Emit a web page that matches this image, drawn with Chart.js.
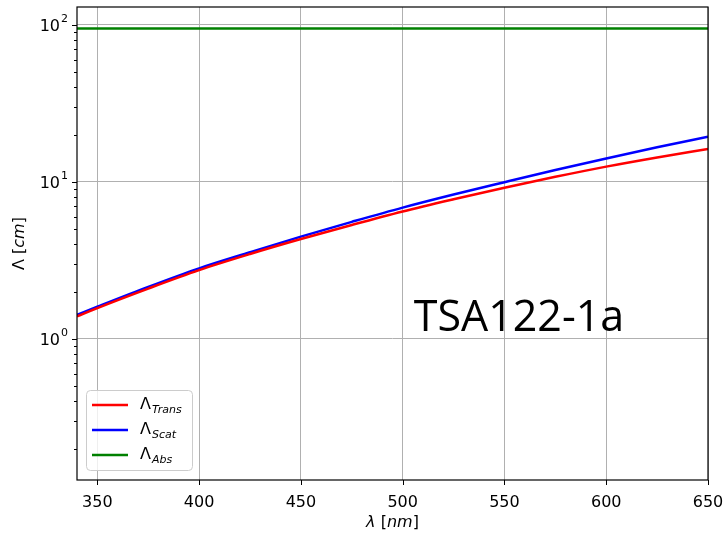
<!DOCTYPE html>
<html>
<head>
<meta charset="utf-8">
<script src="https://cdn.jsdelivr.net/npm/chart.js@4"></script>
<style>
  html, body { margin: 0; padding: 0; background: #fff; }
  #wrap { width: 728px; height: 535px; }
</style>
</head>
<body>
<div id="wrap"><canvas id="lambdaPlot"></canvas></div>
<script>
const wavelengths = [340, 350, 375, 400, 425, 450, 475, 500, 525, 550, 575, 600, 625, 650];
const transValues = [1.39, 1.57, 2.09, 2.74, 3.47, 4.32, 5.31, 6.47, 7.74, 9.18, 10.76, 12.5, 14.3, 16.2];
const scatValues = [1.42, 1.60, 2.14, 2.81, 3.56, 4.48, 5.56, 6.85, 8.30, 9.95, 11.89, 14.1, 16.6, 19.4];
const absValues = [95, 95, 95, 95, 95, 95, 95, 95, 95, 95, 95, 95, 95, 95];
const seriesSubs = ["Trans", "Scat", "Abs"];
const seriesColors = ["#ff0000", "#0000ff", "#008000"];
const xTicks = [350, 400, 450, 500, 550, 600, 650];
const yMajor = [1, 10, 100];
const yMinor = [0.2, 0.3, 0.4, 0.5, 0.6, 0.7, 0.8, 0.9, 2, 3, 4, 5, 6, 7, 8, 9, 20, 30, 40, 50, 60, 70, 80, 90];
const yExponents = { 1: "0", 10: "1", 100: "2" };
const sampleLabel = "TSA122-1a";

function toPoints(vals) {
    return wavelengths.map((w, i) => ({ x: w, y: vals[i] }));
}

// draws text pieces with different fonts side by side, centred on (cx,cy)
function drawParts(c, parts, cx, cy) {
    let total = 0;
    parts.forEach(([f, t]) => { c.font = f; total += c.measureText(t).width; });
    let x = cx - total / 2;
    c.textAlign = "left";
    parts.forEach(([f, t]) => {
        c.font = f;
        c.fillText(t, x, cy);
        x += c.measureText(t).width;
    });
}

// frame, tick marks, y labels, axis titles, legend, sample name
const decorPlugin = {
    id: "decor",
    afterDraw(chart) {
        const c = chart.ctx;
        const a = chart.chartArea;
        const xs = chart.scales.x;
        const ys = chart.scales.y;
        c.save();
        c.strokeStyle = "#000";
        c.lineWidth = 1.2;
        c.strokeRect(a.left, a.top, a.right - a.left, a.bottom - a.top);

        c.lineWidth = 1;
        c.beginPath();
        xTicks.forEach((v) => {
            const px = Math.round(xs.getPixelForValue(v)) + 0.5;
            c.moveTo(px, a.bottom);
            c.lineTo(px, a.bottom + 5);
        });
        yMajor.forEach((v) => {
            const py = Math.round(ys.getPixelForValue(v)) + 0.5;
            c.moveTo(a.left, py);
            c.lineTo(a.left - 5, py);
        });
        yMinor.forEach((v) => {
            const py = Math.round(ys.getPixelForValue(v)) + 0.5;
            if (py < a.top || py > a.bottom) return;
            c.moveTo(a.left, py);
            c.lineTo(a.left - 3, py);
        });
        c.stroke();

        // y tick labels: 10 with superscript exponent
        c.fillStyle = "#000";
        c.textBaseline = "alphabetic";
        yMajor.forEach((v) => {
            const py = ys.getPixelForValue(v);
            c.font = '11px "DejaVu Sans"';
            c.textAlign = "right";
            const ex = yExponents[v];
            const exRight = a.left - 9;
            c.fillText(ex, exRight, py - 3);
            const ew = c.measureText(ex).width;
            c.font = '16px "DejaVu Sans"';
            c.fillText("10", exRight - ew - 1, py + 6);
        });

        // x title
        c.textBaseline = "middle";
        drawParts(c, [
            ['italic 16px "DejaVu Sans"', "λ "],
            ['16px "DejaVu Sans"', "["],
            ['italic 16px "DejaVu Sans"', "nm"],
            ['16px "DejaVu Sans"', "]"],
        ], (a.left + a.right) / 2, 523);

        // y title
        c.save();
        c.translate(20, (a.top + a.bottom) / 2);
        c.rotate(-Math.PI / 2);
        drawParts(c, [
            ['16px "DejaVu Sans"', "Λ "],
            ['16px "DejaVu Sans"', "["],
            ['italic 16px "DejaVu Sans"', "cm"],
            ['16px "DejaVu Sans"', "]"],
        ], 0, 0);
        c.restore();

        // legend
        const lx = 86, ly = 390, lw = 106, lh = 80;
        c.fillStyle = "rgba(255,255,255,0.8)";
        c.strokeStyle = "#cccccc";
        c.lineWidth = 1;
        c.beginPath();
        c.roundRect(lx + 0.5, ly + 0.5, lw, lh, 4);
        c.fill();
        c.stroke();
        chart.data.datasets.forEach((ds, i) => {
            const yy = ly + 15 + i * 25;
            c.strokeStyle = ds.borderColor;
            c.lineWidth = 2.5;
            c.beginPath();
            c.moveTo(lx + 6, yy);
            c.lineTo(lx + 42, yy);
            c.stroke();
            c.fillStyle = "#000";
            c.textAlign = "left";
            c.textBaseline = "middle";
            c.font = '16px "DejaVu Sans"';
            c.fillText("Λ", lx + 54, yy);
            const w = c.measureText("Λ").width;
            c.font = 'italic 11px "DejaVu Sans"';
            c.fillText(seriesSubs[i], lx + 54 + w + 1, yy + 5);
        });

        // sample name
        c.fillStyle = "#000";
        c.font = '43px "Open Sans"';
        c.textAlign = "center";
        c.textBaseline = "alphabetic";
        c.fillText(sampleLabel, 519, 331);
        c.restore();
    },
};

new Chart(document.getElementById("lambdaPlot"), {
    type: "line",
    data: {
        datasets: [
            { label: "Trans", data: toPoints(transValues), borderColor: seriesColors[0] },
            { label: "Scat", data: toPoints(scatValues), borderColor: seriesColors[1] },
            { label: "Abs", data: toPoints(absValues), borderColor: seriesColors[2] },
        ],
    },
    options: {
        responsive: true,
        maintainAspectRatio: false,
        animation: false,
        layout: { padding: { left: 0, top: 7, right: 20, bottom: 0 } },
        elements: {
            point: { radius: 0 },
            line: { borderWidth: 2.5, cubicInterpolationMode: "monotone" },
        },
        plugins: { legend: { display: false }, tooltip: { enabled: false } },
        scales: {
            x: {
                type: "linear",
                min: 340,
                max: 650,
                afterBuildTicks: (s) => { s.ticks = xTicks.map((v) => ({ value: v })); },
                afterFit: (s) => {
                    s.height = 55;
                    s.paddingLeft = 0;
                    s.paddingRight = 0;
                },
                grid: { color: "#b0b0b0", lineWidth: 1, drawTicks: false },
                border: { display: false },
                ticks: { color: "#000", font: { family: "DejaVu Sans", size: 16 }, padding: 13, maxRotation: 0 },
            },
            y: {
                type: "logarithmic",
                min: 0.126,
                max: 130,
                afterBuildTicks: (s) => {
                    s.ticks = yMajor.concat(yMinor).sort((p, q) => p - q).map((v) => ({ value: v }));
                },
                afterFit: (s) => {
                    s.width = 77;
                    s.paddingTop = 0;
                    s.paddingBottom = 0;
                },
                grid: {
                    drawTicks: false,
                    lineWidth: 1,
                    color: (ctx) => (yMajor.includes(ctx.tick && ctx.tick.value) ? "#b0b0b0" : "rgba(0,0,0,0)"),
                },
                border: { display: false },
                ticks: { display: false },
            },
        },
    },
    plugins: [decorPlugin],
});
</script>
</body>
</html>
